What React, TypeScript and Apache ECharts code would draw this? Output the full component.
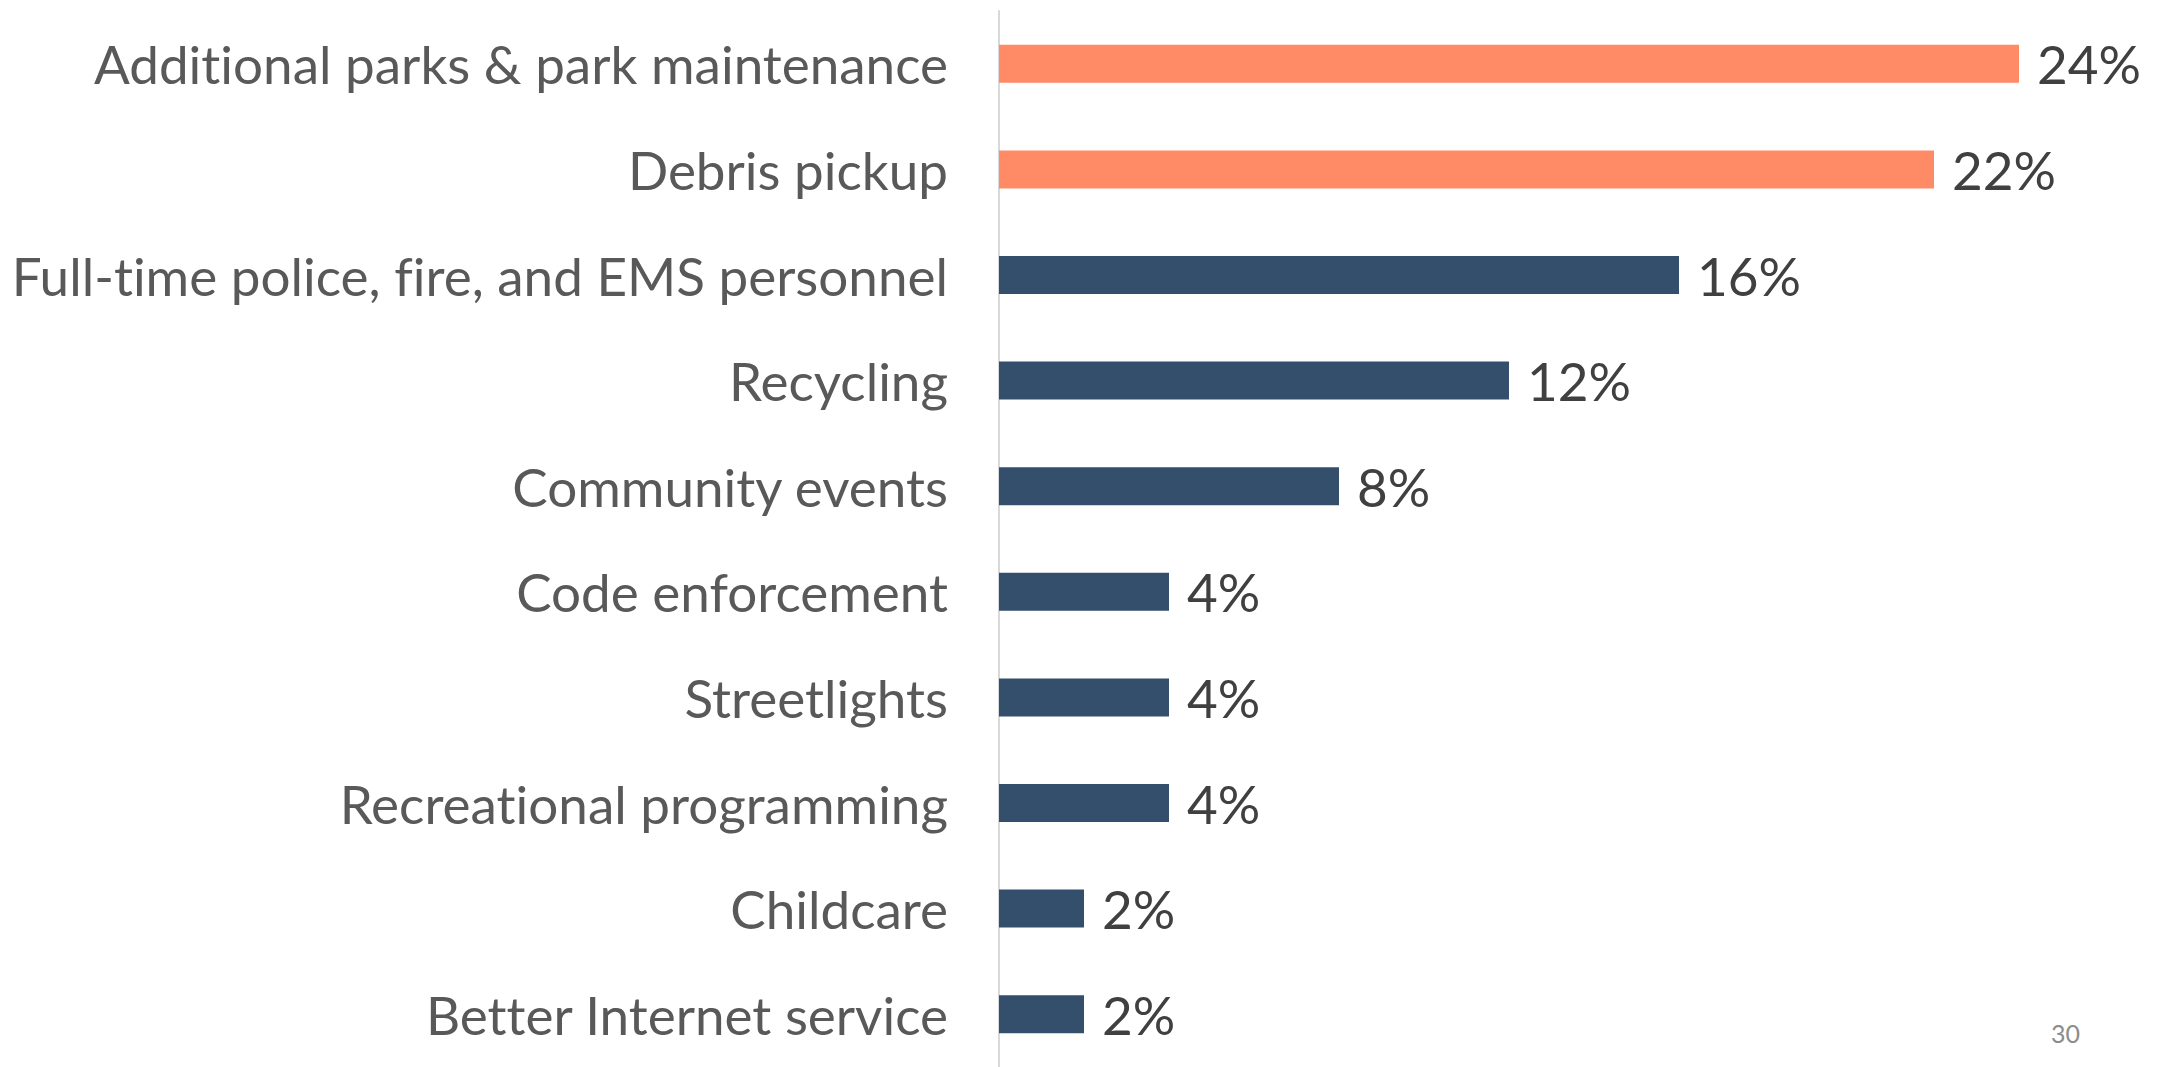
import React, { useEffect, useRef } from "react";
import * as echarts from "echarts";

const categories = [
  "Additional parks & park maintenance",
  "Debris pickup",
  "Full-time police, fire, and EMS personnel",
  "Recycling",
  "Community events",
  "Code enforcement",
  "Streetlights",
  "Recreational programming",
  "Childcare",
  "Better Internet service",
];
const values = [24, 22, 16, 12, 8, 4, 4, 4, 2, 2];
const highlighted = [
  "Additional parks & park maintenance",
  "Debris pickup",
];
const pageNumber = "30";

const ORANGE = "#FF8A66";
const NAVY = "#344F6B";

export default function App() {
  const ref = useRef<HTMLDivElement>(null);
  useEffect(() => {
    if (!ref.current) return;
    const chart = echarts.init(ref.current, undefined, { renderer: "svg" });
    chart.setOption({
      animation: false,
      backgroundColor: "#ffffff",
      grid: { left: 999, top: 11, width: 1062.5, height: 1060, containLabel: false },
      xAxis: {
        type: "value",
        min: 0,
        max: 25,
        show: false,
      },
      yAxis: {
        type: "category",
        data: categories,
        inverse: true,
        axisLine: { show: true, lineStyle: { color: "#D9D9D9", width: 2 } },
        axisTick: { show: false },
        axisLabel: {
          fontFamily: "Lato",
          fontSize: 53,
          color: "#595959",
          margin: 51,
        },
        splitLine: { show: false },
      },
      series: [
        {
          type: "bar",
          barWidth: 38,
          data: values.map((v, i) => ({
            value: v,
            itemStyle: { color: highlighted.includes(categories[i]) ? ORANGE : NAVY },
          })),
          label: {
            show: true,
            position: "right",
            distance: 18,
            formatter: "{c}%",
            fontFamily: "Lato",
            fontSize: 53,
            color: "#404040",
          },
        },
      ],
      graphic: [
        {
          type: "text",
          left: 2051,
          top: 1020,
          style: {
            text: pageNumber,
            fontFamily: "Lato",
            fontSize: 25,
            fill: "#8C8C8C",
          },
        },
      ],
    });
    return () => chart.dispose();
  }, []);
  return (
    <>
      <style>{"svg text{font-variant-ligatures:none;font-feature-settings:'liga' 0;}"}</style>
      <div
        ref={ref}
        style={{ position: "fixed", left: 0, top: 0, width: 2169, height: 1067, overflow: "hidden" }}
      />
    </>
  );
}
